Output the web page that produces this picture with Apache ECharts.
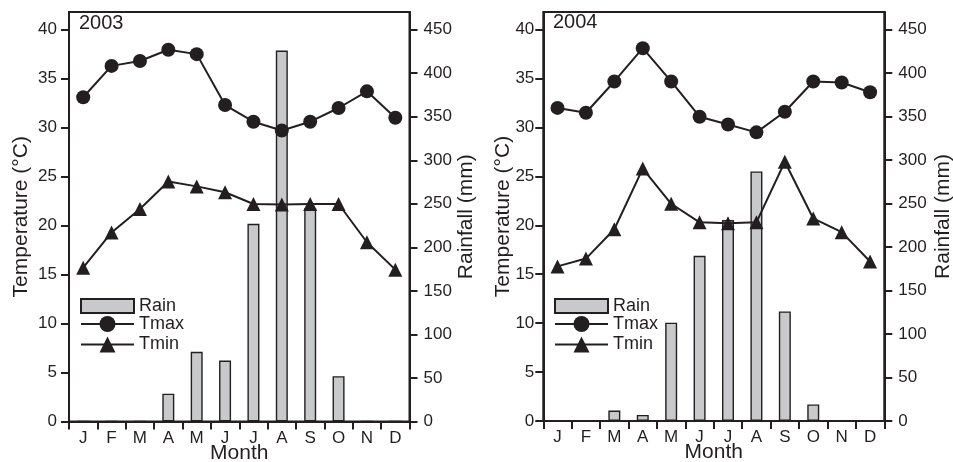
<!DOCTYPE html>
<html><head><meta charset="utf-8">
<script src="https://cdn.jsdelivr.net/npm/echarts@6/dist/echarts.min.js"></script>
<style>html,body{margin:0;padding:0;background:#fff}#c{width:953px;height:462px}</style>
</head><body><div id="c"></div>
<script>
const months = ['J','F','M','A','M','J','J','A','S','O','N','D'];
const rain2003 = [0,0,0,32,80,70,227,426,245,52,0,0];
const tmax2003 = [33.1,36.3,36.8,37.95,37.5,32.3,30.6,29.7,30.6,32.0,33.7,31.0];
const tmin2003 = [15.7,19.3,21.7,24.5,24.0,23.4,22.2,22.15,22.2,22.2,18.3,15.5];
const rain2004 = [0,0,12,7,113,190,231,287,126,19,0,0];
const tmax2004 = [32.0,31.5,34.7,38.1,34.7,31.1,30.3,29.5,31.6,34.7,34.6,33.6];
const tmin2004 = [15.8,16.6,19.6,25.8,22.2,20.3,20.2,20.3,26.5,20.7,19.3,16.3];
const tempTicks = [0,5,10,15,20,25,30,35,40];
const rainTicks = [0,50,100,150,200,250,300,350,400,450];
const years = ['2003','2004'];

const INK = '#231f20';
const FONT = '"Liberation Sans", Arial, Helvetica, sans-serif';
const TEMP_MAX = 41.8, RAIN_MAX = 470.25;

function xAxis(gi) {
  return {
    type: 'category', gridIndex: gi, data: months, boundaryGap: true,
    axisLine: {lineStyle: {color: INK, width: 2}},
    axisTick: {show: true, length: 8, lineStyle: {color: INK, width: 2}},
    axisLabel: {color: INK, fontSize: 17, fontFamily: FONT, margin: 8, interval: 0},
    name: 'Month', nameLocation: 'middle', nameGap: 21, nameMoveOverlap: false,
    nameTextStyle: {color: INK, fontSize: 21, fontFamily: FONT},
    splitLine: {show: false}
  };
}
function tempAxis(gi, labelMargin, nameGap) {
  return {
    type: 'value', gridIndex: gi, position: 'left', min: 0, max: TEMP_MAX,
    axisLine: {show: true, lineStyle: {color: INK, width: 2}},
    axisTick: {show: true, length: 8, customValues: tempTicks, lineStyle: {color: INK, width: 2}},
    axisLabel: {color: INK, fontSize: 17, fontFamily: FONT, margin: labelMargin, customValues: tempTicks},
    splitLine: {show: false},
    name: 'Temperature (°C)', nameLocation: 'middle', nameGap: nameGap, nameMoveOverlap: false,
    nameTextStyle: {color: INK, fontSize: 21, fontFamily: FONT}
  };
}
function rainAxis(gi, nameGap) {
  return {
    type: 'value', gridIndex: gi, position: 'right', min: 0, max: RAIN_MAX,
    axisLine: {show: true, lineStyle: {color: INK, width: 2}},
    axisTick: {show: true, length: 8, customValues: rainTicks, lineStyle: {color: INK, width: 2}},
    axisLabel: {color: INK, fontSize: 17, fontFamily: FONT, margin: 14, customValues: rainTicks},
    splitLine: {show: false},
    name: 'Rainfall (mm)', nameLocation: 'middle', nameGap: nameGap, nameMoveOverlap: false,
    nameTextStyle: {color: INK, fontSize: 21, fontFamily: FONT}
  };
}
function rainSeries(xi, yi, data) {
  return {
    name: 'Rain', type: 'bar', xAxisIndex: xi, yAxisIndex: yi, data: data, barWidth: 12,
    itemStyle: {color: '#c8c9cb', borderColor: INK, borderWidth: 1.4},
    z: 2, silent: true
  };
}
function lineSeries(name, symbol, size, xi, yi, data) {
  return {
    name: name, type: 'line', xAxisIndex: xi, yAxisIndex: yi, data: data,
    symbol: symbol, symbolSize: size, showAllSymbol: true,
    lineStyle: {color: INK, width: 2}, itemStyle: {color: INK},
    z: 3, silent: true, animation: false
  };
}
function legends(left) {
  return [
    {data: ['Rain'], orient: 'vertical', left: left, top: 297, padding: 0,
     itemWidth: 53, itemHeight: 14, icon: 'rect',
     textStyle: {color: INK, fontSize: 18, fontFamily: FONT, lineHeight: 14}},
    {data: ['Tmax', 'Tmin'], orient: 'vertical', left: left, top: 314, padding: 0,
     itemWidth: 53, itemHeight: 20, itemGap: 0.5,
     textStyle: {color: INK, fontSize: 18, fontFamily: FONT, lineHeight: 20}}
  ];
}

const chart = echarts.init(document.getElementById('c'), null, {renderer: 'canvas'});
chart.setOption({
  animation: false,
  backgroundColor: '#fff',
  title: [
    {text: years[0], left: 79, top: 13, padding: 0, textStyle: {color: INK, fontSize: 20, fontWeight: 'normal', fontFamily: FONT}},
    {text: years[1], left: 553, top: 12, padding: 0, textStyle: {color: INK, fontSize: 20, fontWeight: 'normal', fontFamily: FONT}}
  ],
  grid: [
    {left: 69, right: 543.5, top: 12, bottom: 40.5, show: true, borderColor: INK, borderWidth: 2, containLabel: false, outerBoundsMode: 'none'},
    {left: 543.3, right: 68.7, top: 12, bottom: 41, show: true, borderColor: INK, borderWidth: 2, containLabel: false, outerBoundsMode: 'none'}
  ],
  legend: legends(80).concat(legends(554)),
  xAxis: [xAxis(0), xAxis(1)],
  yAxis: [tempAxis(0, 12, 37), rainAxis(0, 46), tempAxis(1, 9, 30), rainAxis(1, 48)],
  series: [
    rainSeries(0, 1, rain2003),
    lineSeries('Tmax', 'circle', 14, 0, 0, tmax2003),
    lineSeries('Tmin', 'triangle', 14, 0, 0, tmin2003),
    rainSeries(1, 3, rain2004),
    lineSeries('Tmax', 'circle', 14, 1, 2, tmax2004),
    lineSeries('Tmin', 'triangle', 14, 1, 2, tmin2004)
  ]
});
</script></body></html>
